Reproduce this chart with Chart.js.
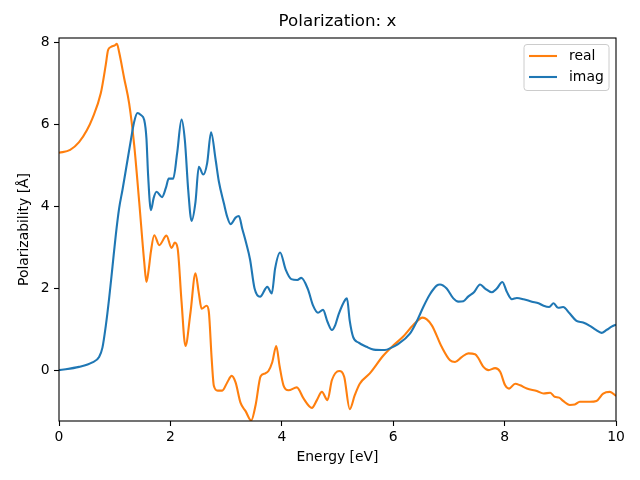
<!DOCTYPE html>
<html>
<head>
<meta charset="utf-8">
<script src="https://cdn.jsdelivr.net/npm/chart.js@4/dist/chart.umd.min.js"></script>
<style>
html,body{margin:0;padding:0;background:#fff;}
#wrap{width:640px;height:480px;position:relative;}
</style>
</head>
<body>
<div id="wrap"><canvas id="c" width="640" height="480"></canvas></div>
<script>
const titleText = "Polarization: x";
const xLabel = "Energy [eV]";
const yLabel = "Polarizability [Å]";
const xTicks = [0, 2, 4, 6, 8, 10];
const yTicks = [0, 2, 4, 6, 8];
const seriesNames = ["real", "imag"];

const realE = [0,0.2,0.36,0.5,0.6,0.75,0.84,0.88,0.93,1.0,1.04,1.08,1.17,1.26,1.35,1.44,1.53,1.57,1.61,1.65,1.71,1.8,1.93,2.02,2.08,2.13,2.2,2.27,2.36,2.45,2.51,2.56,2.65,2.69,2.74,2.78,2.85,2.93,3.02,3.1,3.17,3.26,3.35,3.45,3.53,3.62,3.7,3.76,3.83,3.9,3.96,4.03,4.12,4.27,4.39,4.54,4.63,4.72,4.82,4.9,5.03,5.12,5.22,5.31,5.4,5.58,5.82,6.0,6.18,6.36,6.53,6.69,6.87,7.02,7.11,7.23,7.35,7.47,7.53,7.62,7.71,7.83,7.92,8.01,8.08,8.19,8.28,8.4,8.58,8.7,8.82,8.9,8.98,9.05,9.17,9.26,9.35,9.53,9.65,9.77,9.89,10];
const realV = [5.3,5.37,5.56,5.85,6.14,6.75,7.45,7.8,7.88,7.92,7.96,7.75,7.12,6.5,5.49,4.1,2.64,2.15,2.45,2.89,3.29,3.05,3.28,2.98,3.11,2.97,1.67,0.59,1.4,2.36,1.88,1.5,1.57,1.42,0.3,-0.38,-0.5,-0.5,-0.3,-0.14,-0.3,-0.8,-1.0,-1.23,-0.85,-0.15,-0.08,-0.02,0.2,0.59,0.1,-0.37,-0.49,-0.42,-0.69,-0.92,-0.73,-0.53,-0.73,-0.24,-0.02,-0.16,-0.95,-0.61,-0.33,-0.08,0.35,0.6,0.82,1.1,1.28,1.1,0.57,0.24,0.2,0.32,0.41,0.39,0.29,0.08,0.0,0.05,-0.04,-0.37,-0.45,-0.33,-0.37,-0.45,-0.51,-0.57,-0.55,-0.65,-0.67,-0.75,-0.85,-0.84,-0.77,-0.77,-0.75,-0.57,-0.53,-0.63];

const imagE = [0,0.36,0.6,0.72,0.78,0.84,0.9,0.96,1.02,1.08,1.14,1.2,1.29,1.35,1.41,1.47,1.53,1.57,1.6,1.65,1.7,1.75,1.85,1.92,1.97,2.05,2.12,2.2,2.26,2.32,2.38,2.45,2.51,2.59,2.66,2.73,2.81,2.87,2.96,3.02,3.08,3.17,3.23,3.29,3.36,3.43,3.51,3.61,3.74,3.82,3.88,3.97,4.07,4.17,4.28,4.35,4.47,4.56,4.65,4.74,4.82,4.9,4.96,5.02,5.14,5.17,5.22,5.28,5.38,5.52,5.65,5.85,5.97,6.08,6.3,6.42,6.54,6.66,6.78,6.84,6.96,7.08,7.17,7.26,7.35,7.45,7.56,7.65,7.77,7.86,7.96,8.04,8.13,8.22,8.34,8.49,8.61,8.7,8.8,8.88,8.96,9.05,9.17,9.29,9.41,9.53,9.64,9.74,9.83,9.92,10];
const imagV = [0,0.08,0.19,0.32,0.55,1.08,1.75,2.52,3.3,3.95,4.4,4.88,5.61,6.06,6.27,6.22,6.1,5.65,4.75,3.9,4.2,4.35,4.22,4.45,4.67,4.67,5.28,6.11,5.6,4.39,3.64,4.1,4.96,4.77,5.05,5.8,5.15,4.6,4.07,3.74,3.56,3.72,3.76,3.45,3.1,2.7,2.0,1.79,2.03,1.87,2.48,2.87,2.45,2.22,2.2,2.25,1.97,1.58,1.4,1.47,1.18,0.98,1.1,1.36,1.72,1.75,1.2,0.81,0.67,0.57,0.5,0.49,0.55,0.63,0.89,1.18,1.54,1.85,2.06,2.09,1.99,1.75,1.67,1.68,1.8,1.9,2.09,1.99,1.9,1.99,2.15,1.91,1.73,1.76,1.73,1.67,1.63,1.57,1.54,1.63,1.52,1.54,1.38,1.2,1.16,1.08,0.98,0.91,0.98,1.06,1.11];

const toPts = (xs, ys) => xs.map((x, i) => ({x: x, y: ys[i]}));
const FONT = "'DejaVu Sans', sans-serif";
const colors = ["#ff7f0e", "#1f77b4"];

const framePlugin = {
  id: 'frame',
  afterDatasetsDraw(chart) {
    const {ctx, chartArea: a} = chart;
    ctx.save();
    ctx.strokeStyle = '#000';
    ctx.lineWidth = 1.1;
    ctx.strokeRect(a.left, a.top, a.right - a.left, a.bottom - a.top);
    // title centred over the axes
    ctx.fillStyle = '#000';
    ctx.font = "16.7px " + FONT;
    ctx.textAlign = 'center';
    ctx.textBaseline = 'middle';
    ctx.fillText(titleText, (a.left + a.right) / 2, 22);
    // legend
    const bx = a.right - 92, by = a.top + 6.5, bw = 85, bh = 46, r = 3;
    ctx.beginPath();
    ctx.moveTo(bx + r, by);
    ctx.arcTo(bx + bw, by, bx + bw, by + bh, r);
    ctx.arcTo(bx + bw, by + bh, bx, by + bh, r);
    ctx.arcTo(bx, by + bh, bx, by, r);
    ctx.arcTo(bx, by, bx + bw, by, r);
    ctx.closePath();
    ctx.fillStyle = 'rgba(255,255,255,0.8)';
    ctx.fill();
    ctx.strokeStyle = '#cccccc';
    ctx.lineWidth = 1;
    ctx.stroke();
    ctx.font = "13.9px " + FONT;
    ctx.textBaseline = 'middle';
    ctx.textAlign = 'left';
    chart.data.datasets.forEach((ds, i) => {
      const ly = by + 11.5 + i * 21;
      ctx.strokeStyle = ds.borderColor;
      ctx.lineWidth = 2.1;
      ctx.beginPath();
      ctx.moveTo(bx + 5, ly);
      ctx.lineTo(bx + 33, ly);
      ctx.stroke();
      ctx.fillStyle = '#000';
      ctx.fillText(ds.label, bx + 45, ly);
    });
    ctx.restore();
  }
};

new Chart(document.getElementById('c'), {
  type: 'line',
  data: {
    datasets: [
      {label: seriesNames[0], data: toPts(realE, realV), borderColor: colors[0], backgroundColor: colors[0], borderWidth: 2.1, pointRadius: 0, cubicInterpolationMode: 'monotone', order: 2, fill: false},
      {label: seriesNames[1], data: toPts(imagE, imagV), borderColor: colors[1], backgroundColor: colors[1], borderWidth: 2.1, pointRadius: 0, cubicInterpolationMode: 'monotone', order: 1, fill: false}
    ]
  },
  options: {
    responsive: false,
    animation: false,
    devicePixelRatio: 1,
    layout: {padding: {left: 0, right: 24, top: 38, bottom: 0}},
    plugins: {
      legend: {display: false},
      tooltip: {enabled: false},
      title: {display: false}
    },
    scales: {
      x: {
        type: 'linear', min: 0, max: 10,
        afterBuildTicks: s => { s.ticks = xTicks.map(v => ({value: v})); },
        afterFit: s => { s.height = 59; },
        grid: {drawOnChartArea: false, drawTicks: true, tickLength: 5, tickColor: '#000', tickWidth: 1.1},
        border: {display: false},
        ticks: {color: '#000', font: {family: FONT, size: 13.9}, padding: 3, maxRotation: 0, autoSkip: false},
        title: {display: true, text: xLabel, color: '#000', font: {family: FONT, size: 13.9}, padding: {top: 0, bottom: 14.5}}
      },
      y: {
        type: 'linear', min: -1.24, max: 8.1,
        afterBuildTicks: s => { s.ticks = yTicks.map(v => ({value: v})); },
        afterFit: s => { s.width = 59; },
        grid: {drawOnChartArea: false, drawTicks: true, tickLength: 5, tickColor: '#000', tickWidth: 1.1},
        border: {display: false},
        ticks: {color: '#000', font: {family: FONT, size: 13.9}, padding: 4.5, autoSkip: false},
        title: {display: true, text: yLabel, color: '#000', font: {family: FONT, size: 13.9}, padding: {top: 16.5, bottom: 0}}
      }
    }
  },
  plugins: [framePlugin]
});
</script>
</body>
</html>
